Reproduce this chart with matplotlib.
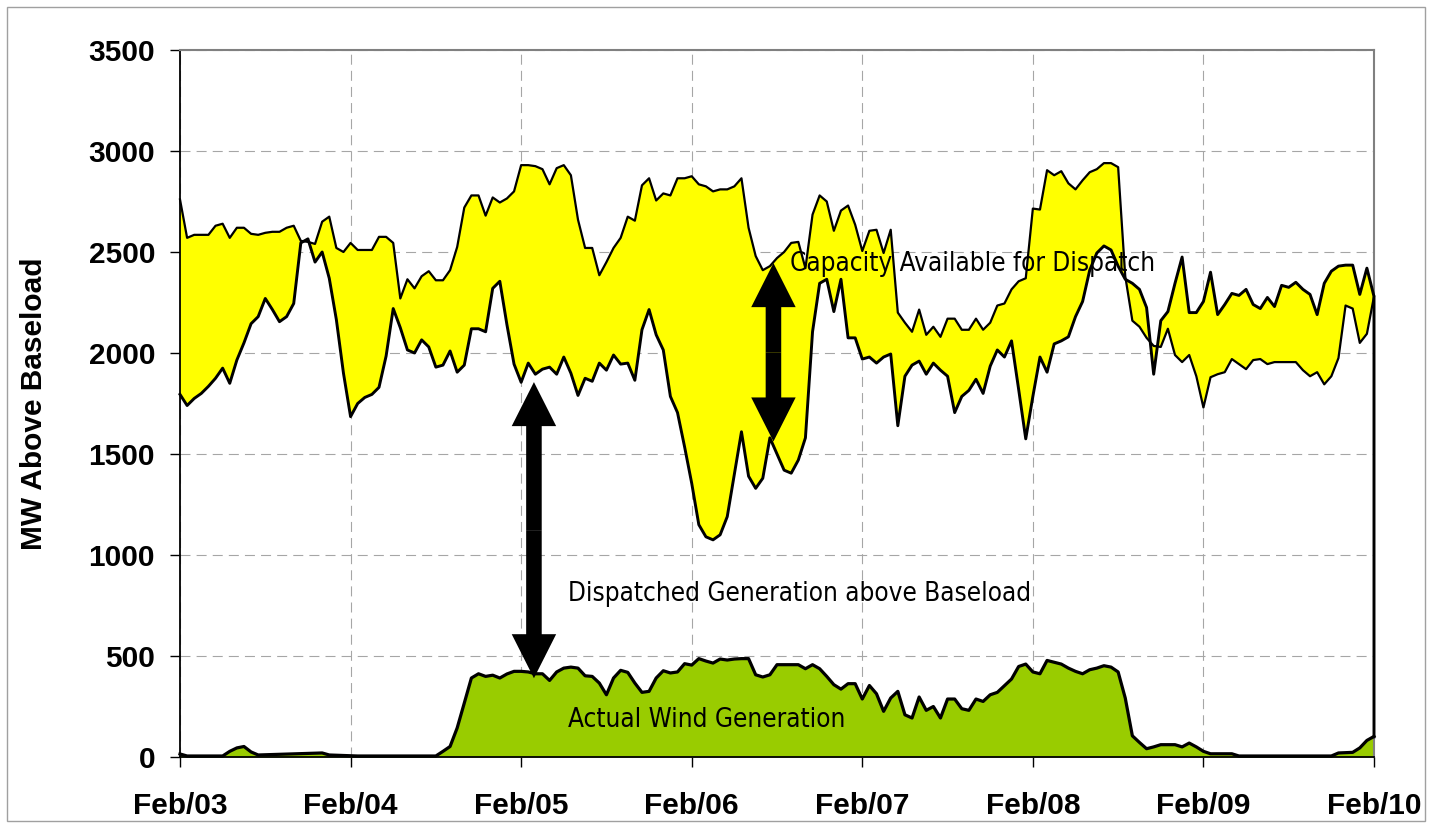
"""Capacity available for dispatch vs dispatched generation and actual wind, Feb/03 - Feb/10."""
import matplotlib
import numpy as np

matplotlib.use("Agg")
import matplotlib.pyplot as plt  # noqa: E402
from matplotlib import font_manager  # noqa: E402
from matplotlib.patches import Rectangle  # noqa: E402

# (hour since Feb/03 00:00, MW above baseload)
capacity = [
    (0, 2760), (1, 2570), (2, 2585), (4, 2585), (5, 2630), (6, 2640), (7, 2570),
    (8, 2620), (9, 2620), (10, 2590), (11, 2585), (12, 2595), (13, 2600), (14, 2600),
    (15, 2620), (16, 2630), (17, 2555), (18, 2550), (19, 2540), (20, 2650), (21, 2675),
    (22, 2520), (23, 2500), (24, 2545), (25, 2510), (27, 2510), (28, 2575), (29, 2575),
    (30, 2545), (31, 2270), (32, 2365), (33, 2320), (34, 2380), (35, 2405), (36, 2360),
    (37, 2360), (38, 2410), (39, 2525), (40, 2720), (41, 2780), (42, 2780), (43, 2680),
    (44, 2770), (45, 2745), (46, 2765), (47, 2800), (48, 2930), (49, 2930), (50, 2925),
    (51, 2910), (52, 2835), (53, 2915), (54, 2930), (55, 2880), (56, 2660), (57, 2520),
    (58, 2520), (59, 2385), (60, 2450), (61, 2520), (62, 2570), (63, 2675), (64, 2655),
    (65, 2830), (66, 2865), (67, 2755), (68, 2790), (69, 2780), (70, 2865), (71, 2865),
    (72, 2875), (73, 2835), (74, 2825), (75, 2800), (76, 2810), (77, 2810), (78, 2825),
    (79, 2865), (80, 2620), (81, 2480), (82, 2410), (83, 2430), (84, 2470), (85, 2500),
    (86, 2545), (87, 2550), (88, 2420), (89, 2685), (90, 2780), (91, 2750), (92, 2605),
    (93, 2705), (94, 2730), (95, 2635), (96, 2505), (97, 2605), (98, 2610), (99, 2495),
    (100, 2610), (101, 2200), (102, 2150), (103, 2105), (104, 2215), (105, 2090),
    (106, 2130), (107, 2080), (108, 2170), (109, 2170), (110, 2115), (111, 2115),
    (112, 2170), (113, 2115), (114, 2150), (115, 2235), (116, 2245), (117, 2315),
    (118, 2355), (119, 2370), (120, 2715), (121, 2710), (122, 2905), (123, 2880),
    (124, 2900), (125, 2840), (126, 2810), (127, 2855), (128, 2895), (129, 2910),
    (130, 2940), (131, 2940), (132, 2920), (133, 2380), (134, 2160), (135, 2130),
    (136, 2075), (137, 2035), (138, 2030), (139, 2120), (140, 1990), (141, 1955),
    (142, 1990), (143, 1885), (144, 1730), (145, 1880), (146, 1895), (147, 1905),
    (148, 1970), (149, 1945), (150, 1920), (151, 1965), (152, 1970), (153, 1945),
    (154, 1955), (157, 1955), (158, 1915), (159, 1885), (160, 1905), (161, 1845),
    (162, 1885), (163, 1975), (164, 2235), (165, 2220), (166, 2050), (167, 2095),
    (168, 2280),
]

dispatched = [
    (0, 1795), (1, 1740), (2, 1775), (3, 1800), (4, 1835), (5, 1875), (6, 1925),
    (7, 1850), (8, 1965), (9, 2050), (10, 2145), (11, 2180), (12, 2270), (13, 2215),
    (14, 2155), (15, 2180), (16, 2245), (17, 2545), (18, 2565), (19, 2450), (20, 2500),
    (21, 2370), (22, 2165), (23, 1900), (24, 1685), (25, 1750), (26, 1780), (27, 1795),
    (28, 1830), (29, 1985), (30, 2220), (31, 2125), (32, 2015), (33, 2000), (34, 2065),
    (35, 2030), (36, 1930), (37, 1940), (38, 2010), (39, 1905), (40, 1940), (41, 2120),
    (42, 2120), (43, 2105), (44, 2320), (45, 2355), (46, 2140), (47, 1945), (48, 1855),
    (49, 1950), (50, 1895), (51, 1920), (52, 1930), (53, 1895), (54, 1980), (55, 1900),
    (56, 1790), (57, 1875), (58, 1860), (59, 1950), (60, 1915), (61, 1990), (62, 1945),
    (63, 1950), (64, 1865), (65, 2115), (66, 2215), (67, 2090), (68, 2015), (69, 1785),
    (70, 1705), (71, 1535), (72, 1355), (73, 1150), (74, 1090), (75, 1075), (76, 1100),
    (77, 1190), (79, 1610), (80, 1390), (81, 1330), (82, 1380), (83, 1580), (84, 1500),
    (85, 1420), (86, 1405), (87, 1470), (88, 1580), (89, 2105), (90, 2345), (91, 2365),
    (92, 2205), (93, 2365), (94, 2075), (95, 2075), (96, 1970), (97, 1980), (98, 1950),
    (99, 1980), (100, 1995), (101, 1640), (102, 1885), (103, 1940), (104, 1960),
    (105, 1895), (106, 1950), (107, 1915), (108, 1885), (109, 1705), (110, 1785),
    (111, 1815), (112, 1870), (113, 1800), (114, 1935), (115, 2015), (116, 1980),
    (117, 2060), (118, 1820), (119, 1575), (120, 1785), (121, 1980), (122, 1905),
    (123, 2045), (124, 2060), (125, 2080), (126, 2180), (127, 2255), (128, 2410),
    (129, 2495), (130, 2530), (131, 2510), (132, 2430), (133, 2365), (134, 2345),
    (135, 2315), (136, 2225), (137, 1895), (138, 2160), (139, 2205), (140, 2345),
    (141, 2475), (142, 2200), (143, 2200), (144, 2255), (145, 2400), (146, 2190),
    (147, 2240), (148, 2295), (149, 2285), (150, 2315), (151, 2240), (152, 2220),
    (153, 2275), (154, 2230), (155, 2335), (156, 2325), (157, 2350), (158, 2315),
    (159, 2290), (160, 2190), (161, 2345), (162, 2405), (163, 2430), (164, 2435),
    (165, 2435), (166, 2290), (167, 2420), (168, 2280), (168, 100),
]

wind = [
    (0, 15), (1, 5), (6, 5), (7, 28), (8, 45), (9, 52), (10, 25), (11, 10), (20, 20),
    (21, 10), (25, 5), (36, 5), (37, 28), (38, 52), (39, 144), (40, 267), (41, 391),
    (42, 412), (43, 399), (44, 405), (45, 391), (46, 411), (47, 424), (48, 424), (49, 421),
    (50, 412), (51, 412), (52, 379), (53, 421), (54, 440), (55, 445), (56, 440), (57, 402),
    (58, 399), (59, 366), (60, 308), (61, 391), (62, 429), (63, 419), (64, 366), (65, 320),
    (66, 325), (67, 391), (68, 427), (69, 416), (70, 421), (71, 462), (72, 455), (73, 487),
    (74, 475), (75, 465), (76, 485), (77, 480), (78, 485), (79, 487), (80, 487), (81, 407),
    (82, 396), (83, 407), (84, 457), (85, 457), (86, 457), (87, 457), (88, 437), (89, 457),
    (90, 437), (91, 399), (92, 358), (93, 336), (94, 363), (95, 363), (96, 287), (97, 354),
    (98, 313), (99, 226), (100, 292), (101, 325), (102, 209), (103, 193), (104, 297),
    (105, 231), (106, 250), (107, 193), (108, 287), (109, 287), (110, 239), (111, 231),
    (112, 287), (113, 275), (114, 308), (115, 320), (116, 353), (117, 386), (118, 448),
    (119, 460), (120, 421), (121, 412), (122, 478), (124, 460), (125, 440), (126, 424),
    (127, 412), (128, 432), (129, 440), (130, 452), (131, 445), (132, 421), (133, 292),
    (134, 105), (135, 72), (136, 41), (137, 50), (138, 61), (140, 61), (141, 50),
    (142, 69), (143, 50), (144, 28), (145, 16), (148, 16), (149, 5), (162, 5), (163, 20),
    (165, 23), (166, 45), (167, 82), (168, 102),
]

day_labels = ["Feb/03", "Feb/04", "Feb/05", "Feb/06", "Feb/07", "Feb/08", "Feb/09", "Feb/10"]
y_ticks = [0, 500, 1000, 1500, 2000, 2500, 3000, 3500]

cap_h, cap_mw = np.array(capacity, dtype=float).T
disp_h, disp_mw = np.array(dispatched, dtype=float).T
wind_h, wind_mw = np.array(wind, dtype=float).T

BOLD = ["Liberation Sans", "DejaVu Sans"]


def narrow_font():
    """A condensed sans for the annotations (Arial Narrow look), if one is installed."""
    for fam, stretch in [("Liberation Sans Narrow", "normal"),
                         ("DejaVu Sans Condensed", "normal"),
                         ("DejaVu Sans", "condensed")]:
        prop = font_manager.FontProperties(family=fam, stretch=stretch)
        try:
            path = font_manager.findfont(prop, fallback_to_default=False)
        except ValueError:
            continue
        if "narrow" in path.lower() or "condensed" in path.lower():
            return font_manager.FontProperties(fname=path), 18.7
    # no condensed face: plain sans, a little smaller to keep the widths
    return font_manager.FontProperties(family="Liberation Sans"), 19


note_font, note_size = narrow_font()
note_font.set_size(note_size)

fig = plt.figure(figsize=(14.38, 8.27), dpi=100)
ax = fig.add_axes([180 / 1438, 1 - 757 / 827, 1194 / 1438, 707 / 827])
ax.set_axisbelow(True)

# yellow band: capacity forward, dispatched back (last dispatched point is the drop line)
band_x = np.concatenate([cap_h, disp_h[:-1][::-1]])
band_y = np.concatenate([cap_mw, disp_mw[:-1][::-1]])
ax.fill(band_x, band_y, color="#FFFF00", lw=0, zorder=1)
ax.fill_between(wind_h, wind_mw, 0, color="#99CC00", lw=0, zorder=2)

ax.plot(cap_h, cap_mw, color="black", lw=1.6, zorder=3, clip_on=False)
ax.plot(disp_h, disp_mw, color="black", lw=2.1, zorder=3, clip_on=False)
ax.plot(wind_h, wind_mw, color="black", lw=2.3, zorder=3, clip_on=False)


def double_arrow(x, y_top, y_bottom):
    mid = (y_top + y_bottom) / 2
    style = "simple,head_length=31.7,head_width=32,tail_width=11.2"
    for end in (y_top, y_bottom):
        ax.annotate("", xy=(x, end), xytext=(x, mid),
                    arrowprops=dict(arrowstyle=style, mutation_scale=1, color="black",
                                    lw=0, shrinkA=0, shrinkB=0), zorder=4)


double_arrow(49.8, 1856, 390)
double_arrow(83.5, 2445, 1562)

ax.text(85.8, 2440, "Capacity Available for Dispatch", fontproperties=note_font,
        va="center", ha="left", zorder=5)
ax.text(54.6, 808, "Dispatched Generation above Baseload", fontproperties=note_font,
        va="center", ha="left", zorder=5)
ax.text(54.6, 185, "Actual Wind Generation", fontproperties=note_font,
        va="center", ha="left", zorder=5)

ax.set_xlim(0, 168)
ax.set_ylim(0, 3500)
ax.set_xticks(np.arange(0, 169, 24))
ax.set_xticklabels(day_labels)
ax.set_yticks(y_ticks)
for lab in ax.get_xticklabels() + ax.get_yticklabels():
    lab.set_family(BOLD)
    lab.set_fontweight("bold")
    lab.set_fontsize(21.5)
ax.tick_params(axis="y", direction="out", length=7, width=1, pad=11)
ax.tick_params(axis="x", direction="out", length=7, width=1, pad=18)
ax.grid(True, color="#a6a6a6", lw=0.8, linestyle=(0, (9, 5.5)))

for side in ("left", "bottom"):
    ax.spines[side].set_color("black")
    ax.spines[side].set_linewidth(1.3)
for side in ("top", "right"):
    ax.spines[side].set_color("#808080")
    ax.spines[side].set_linewidth(1.5)

ax.set_ylabel("MW Above Baseload", family=BOLD, fontweight="bold", fontsize=21.5,
              va="center")
ax.yaxis.set_label_coords((34 - 180) / 1194, 0.5)

fig.patches.append(Rectangle((6.5 / 1438, 1 - 821 / 827), 1418.5 / 1438, 814.5 / 827,
                             transform=fig.transFigure, fill=False,
                             edgecolor="#a0a0a0", lw=1))

fig.savefig("out.png", dpi=100)
